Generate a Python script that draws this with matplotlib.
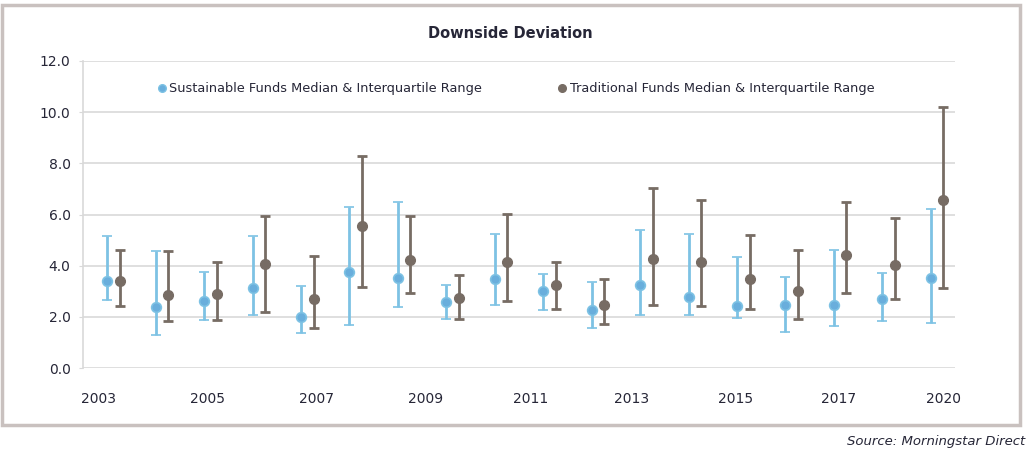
import numpy as np
import matplotlib.pyplot as plt
from matplotlib.patches import Rectangle
from matplotlib.lines import Line2D

# Data (median and interquartile range)
years = list(range(2003, 2021))
sus_med = [3.40, 2.37, 2.62, 3.14, 2.01, 3.77, 3.52, 2.59, 3.47, 3.00, 2.27, 3.26, 2.78, 2.44, 2.48, 2.45, 2.68, 3.52]
sus_hi = [5.17, 4.59, 3.75, 5.15, 3.21, 6.28, 6.49, 3.23, 5.24, 3.69, 3.36, 5.38, 5.24, 4.35, 3.56, 4.60, 3.73, 6.22]
sus_lo = [2.66, 1.29, 1.89, 2.06, 1.36, 1.69, 2.38, 1.93, 2.46, 2.27, 1.58, 2.06, 2.06, 1.95, 1.42, 1.65, 1.85, 1.77]
trad_med = [3.40, 2.87, 2.89, 4.08, 2.70, 5.55, 4.22, 2.74, 4.14, 3.26, 2.48, 4.27, 4.14, 3.49, 3.02, 4.42, 4.03, 6.57]
trad_hi = [4.61, 4.59, 4.13, 5.94, 4.39, 8.30, 5.94, 3.65, 6.02, 4.14, 3.49, 7.02, 6.56, 5.20, 4.60, 6.50, 5.86, 10.22]
trad_lo = [2.42, 1.85, 1.89, 2.20, 1.55, 3.15, 2.94, 1.90, 2.63, 2.32, 1.71, 2.48, 2.44, 2.32, 1.92, 2.94, 2.71, 3.14]

# x labels as they appear on the chart
xlabels = ['2003', '2005', '2007', '2009', '2011', '2013', '2015', '2017', '2020']
xlabel_pos = [-0.17, 2.08, 4.33, 6.58, 8.75, 10.83, 12.98, 15.09, 17.27]

blue_line = '#7DC2E4'
blue_dot = '#69AEDC'
brown = '#776C64'
txt = '#262637'
grid = '#D9D9D9'

fig = plt.figure(figsize=(10.29, 4.57), dpi=100)
ax = fig.add_axes([83 / 1029, 1 - 368 / 457, 872 / 1029, 307 / 457])

x = np.arange(len(years))
sus_med = np.array(sus_med)
trad_med = np.array(trad_med)

ax.errorbar(x, sus_med, yerr=[sus_med - np.array(sus_lo), np.array(sus_hi) - sus_med],
            fmt='o', color=blue_dot, mec=blue_line, mew=1.2, ms=7,
            ecolor=blue_line, elinewidth=2, capsize=3.5, capthick=2, zorder=3)
ax.errorbar(x + 0.26, trad_med, yerr=[trad_med - np.array(trad_lo), np.array(trad_hi) - trad_med],
            fmt='o', color=brown, mec=brown, ms=7,
            ecolor=brown, elinewidth=2, capsize=3.5, capthick=2, zorder=3)

ax.set_xlim(-0.5, 17.5)
ax.set_ylim(0, 12)
ax.set_yticks(np.arange(0, 12.1, 2))
ax.set_yticklabels([f'{v:.1f}' for v in np.arange(0, 12.1, 2)])
ax.set_xticks(xlabel_pos)
ax.set_xticklabels(xlabels)
ax.grid(axis='y', color=grid, lw=1.2)
ax.set_axisbelow(True)
for s in ['top', 'right', 'bottom']:
    ax.spines[s].set_visible(False)
ax.spines['left'].set_color(grid)
ax.spines['left'].set_linewidth(1.2)
ax.tick_params(axis='x', length=0, pad=17, labelsize=10, colors=txt)
ax.tick_params(axis='y', length=3, color=grid, pad=6, labelsize=10, colors=txt)

# legend entries, placed separately like the original
h_sus = Line2D([], [], ls='none', marker='o', ms=5.5, color=blue_dot, mec=blue_line)
h_trad = Line2D([], [], ls='none', marker='o', ms=5.5, color=brown)
leg1 = ax.legend([h_sus], ['Sustainable Funds Median & Interquartile Range'], loc='center left',
                 bbox_to_anchor=(0.087, 0.909), frameon=False, borderpad=0, borderaxespad=0,
                 handlelength=0.5, handletextpad=0.25, fontsize=9.3, labelcolor=txt)
ax.add_artist(leg1)
ax.legend([h_trad], ['Traditional Funds Median & Interquartile Range'], loc='center left',
          bbox_to_anchor=(0.546, 0.909), frameon=False, borderpad=0, borderaxespad=0,
          handlelength=0.5, handletextpad=0.35, fontsize=9.3, labelcolor=txt)

fig.text(510 / 1029, 1 - 33 / 457, 'Downside Deviation', ha='center', va='center',
         fontsize=10.5, fontweight='bold', color=txt)
fig.text(1025 / 1029, 1 - 442 / 457, 'Source: Morningstar Direct', ha='right', va='center',
         fontsize=9.5, style='italic', color=txt)

# outer frame
fig.add_artist(Rectangle((2 / 1029, 1 - 425 / 457), 1018 / 1029, 420 / 457,
                         transform=fig.transFigure, fill=False, ec='#C9C1BF', lw=2.5))

fig.savefig('out.png', dpi=100)
